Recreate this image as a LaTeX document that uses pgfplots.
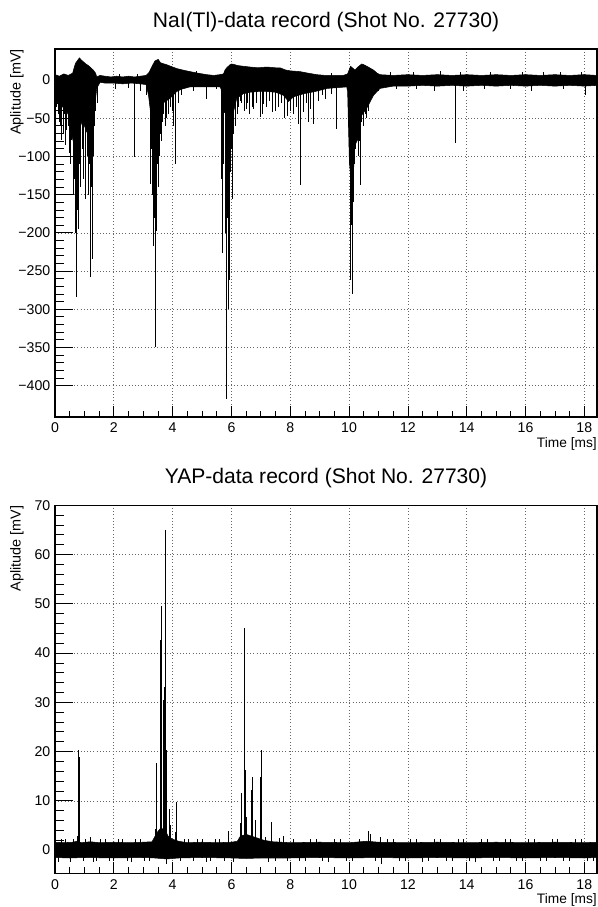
\documentclass[border=0pt]{standalone}
\usepackage{fontspec}
\setmainfont{Liberation Sans}
\usepackage{pgfplots}
\pgfplotsset{compat=1.18}

\pgfplotsset{
  rootaxis/.style={
    scale only axis,
    width=406.5pt, height=276pt,
    anchor=south west,
    xmin=0, xmax=18.43,
    xtick={0,2,...,18},
    minor x tick num=3,
    tickpos=left,
    tick align=inside,
    axis line style={line width=0.8pt},
    tick style={black, line width=0.6pt},
    major tick length=13.5pt,
    minor tick length=6.75pt,
    x tick style={/pgfplots/major tick length=8.25pt, /pgfplots/minor tick length=4.5pt},
    grid=major,
    major grid style={dotted, black!60, line width=0.5pt},
    /pgf/number format/assume math mode=true,
    ticklabel style={font=\fontsize{10.6}{12}\selectfont},
    xticklabel style={yshift=-1pt},
    title style={at={(axis description cs:0.5,1.051)}, anchor=center, yshift=0pt,
      font=\fontsize{15.8}{18}\selectfont},
    xlabel={Time [ms]},
    ylabel={Aplitude [mV]},
    xlabel style={at={(axis description cs:1,-0.0725)}, anchor=east, inner sep=0pt,
      font=\fontsize{10.3}{12}\selectfont},
    ylabel style={at={(axis description cs:-0.0701,1)}, anchor=east, inner sep=0pt,
      font=\fontsize{10.8}{12}\selectfont},
  },
  band/.style={fill=black, draw=black, line width=0.4pt},
  spikes/.style={ycomb, black, line width=0.6pt, mark=none},
}

\begin{document}
\begin{tikzpicture}
\useasboundingbox (0,0) rectangle (447.75pt,680.25pt);

% NaI(Tl) detector
\begin{axis}[rootaxis, at={(41.25pt,367.5pt)},
  ymin=-441, ymax=40.6,
  ytick={-400,-350,-300,-250,-200,-150,-100,-50,0},
  yticklabels={−400,−350,−300,−250,−200,−150,−100,−50,0},
  minor y tick num=4,
  title={NaI(Tl)-data record (Shot No. 27730)}]

\addplot[band] coordinates {
(0,7) (0.15,5) (0.3,8) (0.45,6) (0.6,9) (0.65,16) (0.7,22) (0.83,29) (0.9,26)
(0.96,24) (1.05,21) (1.13,19) (1.22,16) (1.3,13) (1.38,9) (1.42,4) (1.53,6)
(1.7,5) (1.9,4) (2.1,5) (2.3,4) (2.5,5) (2.7,4) (2.9,5) (3.1,6) (3.2,10)
(3.3,18) (3.4,25) (3.51,27) (3.58,23) (3.63,22) (3.8,20) (4.0,17) (4.14,15)
(4.35,13) (4.59,11) (4.85,9) (5.16,7) (5.4,6) (5.6,7) (5.73,8) (5.78,13)
(5.84,16) (5.95,20) (6.01,21) (6.12,20) (6.2,19) (6.4,18) (6.63,17) (6.9,16)
(7.2,17) (7.5,16) (7.65,16) (7.85,13) (8.0,12) (8.33,11) (8.6,9) (8.9,7)
(9.2,6) (9.5,6) (9.8,6) (9.95,8) (10.05,18) (10.14,15) (10.2,13) (10.3,17)
(10.43,21) (10.5,20) (10.65,17) (10.83,13) (10.95,9) (11.05,7) (11.5,6)
(12,7) (12.5,6) (13,7) (13.5,6) (14,7) (14.5,6) (15,7) (15.5,6) (16,7)
(16.5,6) (17,7) (17.5,6) (18,7) (18.43,6)
(18.43,-7) (18,-8) (17.5,-7) (17,-8) (16.5,-7) (16,-8) (15.5,-7) (15,-8)
(14.5,-7) (14,-8) (13.5,-7) (13,-8) (12.5,-7) (12,-8) (11.5,-8) (11.05,-11)
(10.83,-20) (10.6,-37) (10.43,-46) (10.32,-76) (10.2,-85) (10.12,-140)
(10.09,-150) (10.04,-120) (10.01,-107) (9.95,-15) (9.92,-9) (9.6,-10)
(9.25,-11) (9.05,-13) (8.85,-15) (8.45,-18) (8.11,-22) (7.94,-28) (7.77,-20)
(7.5,-16) (7.2,-15) (6.9,-15) (6.63,-16) (6.4,-18) (6.18,-24) (6.05,-45)
(5.95,-50) (5.85,-45) (5.72,-41) (5.65,-12) (5.61,-9) (5.3,-9) (4.93,-9)
(4.59,-9) (4.3,-12) (4.14,-15) (3.91,-24) (3.68,-30) (3.57,-55) (3.44,-76)
(3.29,-55) (3.18,-20) (3.1,-6) (2.9,-5) (2.6,-4) (2.3,-5) (2.0,-4) (1.7,-4)
(1.53,-3) (1.42,-11) (1.33,-41) (1.25,-85) (1.17,-72) (1.08,-68) (0.98,-58)
(0.91,-55) (0.8,-70) (0.74,-76) (0.62,-80) (0.55,-70) (0.51,-63) (0.45,-45)
(0.35,-38) (0.25,-35) (0.15,-28) (0.06,-30) (0,-20)
} -- cycle;

\addplot[spikes] coordinates {
(0.05,-35) (0.10,-45) (0.14,-55) (0.18,-60) (0.23,-79) (0.27,-70) (0.30,-50)
(0.33,-45) (0.37,-85) (0.40,-65) (0.44,-60) (0.48,-95) (0.53,-110) (0.57,-78)
(0.62,-151) (0.66,-130) (0.69,-200) (0.71,-150) (0.74,-284) (0.77,-170)
(0.79,-195) (0.82,-110) (0.85,-140) (0.88,-120) (0.93,-90) (0.96,-130)
(1.02,-156) (1.05,-120) (1.10,-100) (1.13,-150) (1.16,-110) (1.19,-258)
(1.22,-180) (1.25,-140) (1.28,-234) (1.31,-100) (1.35,-60) (1.39,-40)
(1.45,-30) (2.05,-12) (2.5,-10) (2.70,-101) (2.9,-15) (3.1,-20) (3.23,-136)
(3.27,-90) (3.31,-150) (3.34,-217) (3.37,-180) (3.40,-349) (3.43,-120)
(3.46,-197) (3.49,-110) (3.52,-140) (3.55,-100) (3.58,-70) (3.62,-80)
(3.66,-55) (3.7,-45) (3.75,-60) (3.8,-50) (3.85,-45) (3.92,-35) (3.99,-40)
(4.02,-60) (4.08,-110) (4.2,-30) (4.3,-20) (4.7,-15) (5.16,-25) (5.5,-12)
(5.67,-129) (5.70,-227) (5.74,-110) (5.78,-160) (5.81,-200) (5.84,-417)
(5.87,-180) (5.88,-300) (5.92,-262) (5.96,-120) (6.0,-90) (6.04,-156)
(6.08,-70) (6.12,-60) (6.2,-45) (6.25,-35) (6.3,-28) (6.35,-30) (6.45,-40)
(6.5,-38) (6.55,-30) (6.6,-45) (6.7,-35) (6.75,-38) (6.85,-30) (6.97,-48)
(7.05,-45) (7.1,-32) (7.2,-35) (7.3,-28) (7.4,-42) (7.5,-40) (7.6,-35)
(7.7,-30) (7.8,-50) (7.9,-47) (8.0,-40) (8.1,-45) (8.2,-35) (8.28,-57)
(8.33,-138) (8.45,-42) (8.55,-30) (8.6,-55) (8.7,-38) (8.79,-57) (8.95,-28)
(9.1,-20) (9.2,-25) (9.4,-18) (9.58,-64) (9.98,-60) (10.0,-110)
(10.03,-262) (10.06,-200) (10.08,-190) (10.12,-280) (10.15,-160)
(10.18,-110) (10.22,-90) (10.25,-70) (10.3,-100) (10.34,-80) (10.37,-138)
(10.42,-55) (10.5,-60) (10.55,-45) (10.6,-50) (10.65,-40) (11.0,-15)
(11.6,-12) (12.3,-12) (12.9,-14) (13.6,-83) (13.9,-15) (14.6,-12) (15.5,-12)
(16.2,-14) (17.3,-12) (18.03,-20)
(2.2,8) (2.8,8) (4.8,12) (9.4,9) (11.4,10) (12.2,11) (13.1,12) (13.8,10)
(14.8,10) (15.9,11) (16.6,10) (17.2,10) (17.9,11)
};
\end{axis}

% YAP detector
\begin{axis}[rootaxis, at={(41.25pt,25.3pt)},
  ymin=-4.7, ymax=70,
  ytick={0,10,...,70},
  minor y tick num=4,
  title={YAP-data record (Shot No. 27730)}]

\addplot[band] coordinates {
(0,1.6) (0.3,1.5) (0.6,1.6) (0.75,1.8) (0.9,1.5) (1.2,1.7) (1.5,1.5)
(2.0,1.6) (2.5,1.5) (3.0,1.6) (3.3,1.7) (3.4,2.8) (3.5,3.8) (3.6,4.5)
(3.75,4) (3.85,2.8) (4.0,2.2) (4.2,1.8) (4.5,1.5) (5.0,1.6) (5.5,1.5)
(6.0,1.6) (6.2,1.8) (6.3,2.8) (6.5,3.2) (6.7,2.8) (6.9,2.4) (7.1,2)
(7.4,1.7) (8,1.5) (9,1.6) (10,1.5) (10.6,1.8) (11,1.6) (12,1.5) (13,1.6)
(14,1.5) (15,1.6) (16,1.5) (17,1.6) (18,1.5) (18.43,1.6)
(18.43,-1.5) (18,-1.6) (17,-1.5) (16,-1.6) (15,-1.5) (14,-1.6) (13,-1.5)
(12,-1.6) (11,-1.5) (10,-1.6) (9,-1.5) (8,-1.6) (7,-1.6) (6.5,-1.7)
(6,-1.6) (5,-1.5) (4.2,-1.6) (3.8,-1.8) (3.6,-1.7) (3.4,-1.6) (3,-1.5)
(2,-1.6) (1,-1.5) (0.5,-1.6) (0,-1.5)
} -- cycle;

\addplot[spikes] coordinates {
(0.12,-2.4) (0.22,2.3) (0.35,2.2) (0.52,-2.5) (0.64,2.3) (0.76,2.9)
(0.79,20.3) (0.83,19) (0.95,-2.3) (1.05,2.3) (1.19,2.6) (1.3,-2.4) (1.4,-2.3)
(1.55,2.2) (1.7,2.2) (1.85,-2.3) (2.0,-2.2) (2.15,2.3) (2.3,2.3) (2.45,-2.3)
(2.6,-2.4) (2.75,2.2) (2.9,2.2) (3.05,-2.3) (3.2,-2.2) (3.4,4.2)
(3.46,17.6) (3.57,42.6) (3.61,49.5) (3.63,20) (3.68,30.4) (3.72,33.1)
(3.74,65) (3.78,20.3) (3.8,-2.8) (3.89,8.4) (3.93,5) (4.10,3.6) (4.14,9.8)
(4.25,-2.3) (4.4,2.3) (4.55,2.2) (4.7,-2.3) (4.85,2.2) (5.0,2.2) (5.15,-2.4)
(5.3,-2.2) (5.45,2.2) (5.6,2.3) (5.75,-2.3) (5.9,3.9) (6.05,-2.4)
(6.32,5.5) (6.35,11.5) (6.44,45) (6.49,16.2) (6.52,6.7) (6.67,12.3)
(6.70,14.9) (6.83,6.1) (7.0,14.9) (7.02,20.3) (7.14,2.6) (7.25,-2.4)
(7.37,5.8) (7.5,-2.2) (7.62,2.4) (7.76,2.9) (7.9,-2.3) (8.1,2.3) (8.3,-2.2)
(8.5,-2.3) (8.7,2.2) (8.9,2.2) (9.1,-2.3) (9.3,-2.4) (9.5,2.2) (9.7,2.3)
(9.9,-2.2) (10.1,-2.2) (10.35,2.3) (10.66,3.9) (10.71,3.2) (10.9,-2.3)
(11.06,2.6) (11.1,-2.8) (11.3,2.2) (11.5,2.2) (11.7,-2.2) (11.9,-2.3)
(12.1,2.3) (12.3,2.3) (12.5,-2.4) (12.7,-2.2) (12.9,2.2) (13.1,2.3)
(13.3,-2.2) (13.5,-2.3) (13.7,2.3) (13.9,2.2) (14.1,-2.3) (14.3,-2.4)
(14.5,2.2) (14.7,2.3) (14.9,-2.2) (15.1,-2.2) (15.3,2.3) (15.5,2.2)
(15.7,-2.3) (15.9,-2.3) (16.1,2.2) (16.3,2.3) (16.5,-2.2) (16.7,-2.2)
(16.9,2.3) (17.1,2.2) (17.3,-2.3) (17.5,-2.3) (17.7,2.2) (17.9,2.3)
(18.1,-2.2) (18.3,-2.2)
};
\end{axis}
\end{tikzpicture}
\end{document}
